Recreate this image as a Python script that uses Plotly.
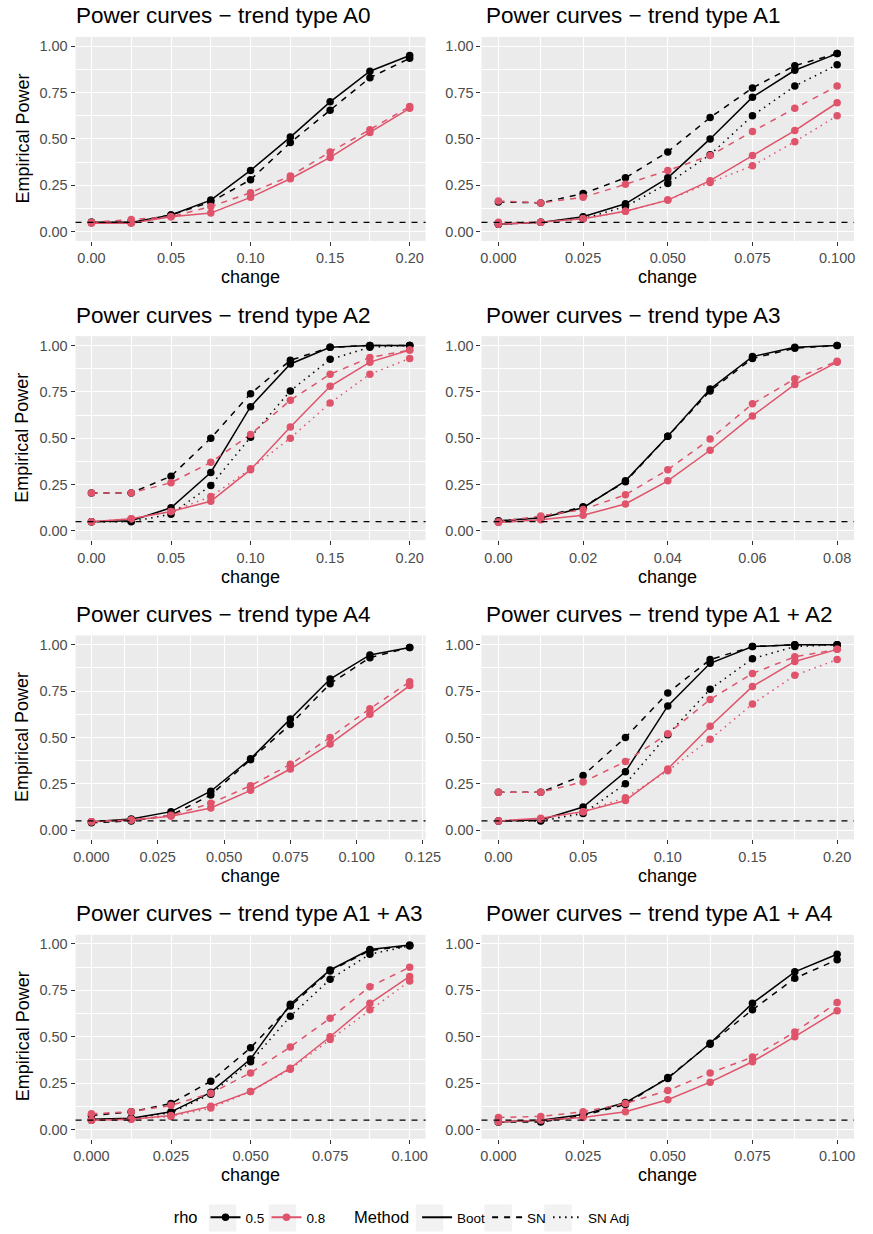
import plotly.graph_objects as go

BLACK = "#000000"
RED = "#DF536B"
FONT = "Liberation Sans, Arial, sans-serif"

# ---------------- data ----------------
x_step025 = [0.000, 0.025, 0.050, 0.075, 0.100, 0.125, 0.150, 0.175, 0.200]
x_step0125 = [0.0, 0.0125, 0.025, 0.0375, 0.05, 0.0625, 0.075, 0.0875, 0.1]
x_step01 = [0.00, 0.01, 0.02, 0.03, 0.04, 0.05, 0.06, 0.07, 0.08]
x_step015 = [0.000, 0.015, 0.030, 0.045, 0.060, 0.075, 0.090, 0.105, 0.120]

# A0
A0_boot_05 = [0.05, 0.05, 0.09, 0.17, 0.33, 0.51, 0.70, 0.865, 0.95]
A0_sn_05 = [0.05, 0.05, 0.09, 0.16, 0.28, 0.48, 0.655, 0.83, 0.935]
A0_boot_08 = [0.045, 0.045, 0.08, 0.10, 0.185, 0.285, 0.40, 0.535, 0.665]
A0_sn_08 = [0.05, 0.065, 0.08, 0.135, 0.21, 0.30, 0.43, 0.55, 0.675]

# A1
A1_boot_05 = [0.04, 0.05, 0.08, 0.15, 0.29, 0.50, 0.725, 0.87, 0.96]
A1_sn_05 = [0.16, 0.155, 0.205, 0.29, 0.43, 0.615, 0.775, 0.895, 0.96]
A1_snadj_05 = [0.04, 0.05, 0.07, 0.135, 0.26, 0.415, 0.625, 0.785, 0.90]
A1_boot_08 = [0.04, 0.05, 0.07, 0.11, 0.17, 0.275, 0.41, 0.545, 0.695]
A1_sn_08 = [0.165, 0.155, 0.185, 0.255, 0.33, 0.41, 0.54, 0.665, 0.785]
A1_snadj_08 = [0.05, 0.05, 0.07, 0.11, 0.17, 0.265, 0.355, 0.485, 0.625]

# A2
A2_boot_05 = [0.05, 0.055, 0.125, 0.315, 0.67, 0.90, 0.99, 1.00, 1.00]
A2_sn_05 = [0.205, 0.205, 0.295, 0.50, 0.74, 0.92, 0.99, 1.00, 1.00]
A2_snadj_05 = [0.05, 0.05, 0.09, 0.245, 0.505, 0.755, 0.925, 0.99, 1.00]
A2_boot_08 = [0.05, 0.065, 0.105, 0.16, 0.33, 0.56, 0.78, 0.91, 0.975]
A2_sn_08 = [0.205, 0.205, 0.26, 0.37, 0.52, 0.705, 0.845, 0.935, 0.975]
A2_snadj_08 = [0.05, 0.065, 0.105, 0.185, 0.335, 0.50, 0.69, 0.845, 0.93]

# A3
A3_boot_05 = [0.055, 0.07, 0.125, 0.27, 0.51, 0.765, 0.94, 0.99, 1.00]
A3_sn_05 = [0.05, 0.075, 0.13, 0.265, 0.51, 0.755, 0.93, 0.985, 1.00]
A3_boot_08 = [0.045, 0.06, 0.085, 0.145, 0.27, 0.435, 0.62, 0.79, 0.91]
A3_sn_08 = [0.05, 0.08, 0.115, 0.195, 0.33, 0.495, 0.685, 0.82, 0.915]

# A4
A4_boot_05 = [0.045, 0.06, 0.10, 0.21, 0.385, 0.60, 0.815, 0.945, 0.985]
A4_sn_05 = [0.04, 0.05, 0.08, 0.19, 0.38, 0.57, 0.79, 0.93, 0.985]
A4_boot_08 = [0.045, 0.055, 0.075, 0.12, 0.215, 0.33, 0.465, 0.625, 0.78]
A4_sn_08 = [0.045, 0.055, 0.08, 0.145, 0.24, 0.355, 0.50, 0.655, 0.80]

# A1 + A2
A12_boot_05 = [0.05, 0.055, 0.125, 0.315, 0.67, 0.90, 0.99, 1.00, 1.00]
A12_sn_05 = [0.205, 0.205, 0.295, 0.50, 0.74, 0.92, 0.99, 1.00, 1.00]
A12_snadj_05 = [0.05, 0.05, 0.09, 0.25, 0.515, 0.76, 0.925, 0.99, 1.00]
A12_boot_08 = [0.05, 0.065, 0.10, 0.16, 0.33, 0.56, 0.775, 0.91, 0.975]
A12_sn_08 = [0.205, 0.205, 0.26, 0.37, 0.52, 0.705, 0.845, 0.935, 0.975]
A12_snadj_08 = [0.05, 0.06, 0.10, 0.175, 0.32, 0.49, 0.68, 0.835, 0.92]

# A1 + A3
A13_boot_05 = [0.055, 0.06, 0.095, 0.20, 0.38, 0.675, 0.86, 0.97, 0.995]
A13_sn_05 = [0.075, 0.095, 0.14, 0.26, 0.44, 0.665, 0.855, 0.965, 0.99]
A13_snadj_05 = [0.05, 0.06, 0.09, 0.19, 0.365, 0.61, 0.81, 0.945, 0.99]
A13_boot_08 = [0.05, 0.055, 0.075, 0.125, 0.205, 0.33, 0.50, 0.68, 0.825]
A13_sn_08 = [0.085, 0.095, 0.13, 0.195, 0.305, 0.445, 0.60, 0.77, 0.875]
A13_snadj_08 = [0.05, 0.055, 0.07, 0.115, 0.205, 0.325, 0.485, 0.645, 0.80]

# A1 + A4
A14_boot_05 = [0.04, 0.05, 0.08, 0.145, 0.275, 0.465, 0.68, 0.85, 0.945]
A14_sn_05 = [0.04, 0.04, 0.075, 0.135, 0.28, 0.46, 0.645, 0.815, 0.915]
A14_boot_08 = [0.04, 0.05, 0.065, 0.095, 0.16, 0.255, 0.365, 0.50, 0.64]
A14_sn_08 = [0.065, 0.07, 0.095, 0.14, 0.21, 0.305, 0.39, 0.525, 0.685]

alpha_level = 0.05

# tick labels
y_ticks = [0.0, 0.25, 0.5, 0.75, 1.0]
y_ticklabels = ["0.00", "0.25", "0.50", "0.75", "1.00"]
x_ticks_020 = [0.0, 0.05, 0.10, 0.15, 0.20]
x_ticklabels_020 = ["0.00", "0.05", "0.10", "0.15", "0.20"]
x_ticks_010 = [0.0, 0.025, 0.05, 0.075, 0.1]
x_ticklabels_010 = ["0.000", "0.025", "0.050", "0.075", "0.100"]
x_ticks_008 = [0.0, 0.02, 0.04, 0.06, 0.08]
x_ticklabels_008 = ["0.00", "0.02", "0.04", "0.06", "0.08"]
x_ticks_012 = [0.0, 0.025, 0.05, 0.075, 0.1, 0.125]
x_ticklabels_012 = ["0.000", "0.025", "0.050", "0.075", "0.100", "0.125"]

titles = ["Power curves \u2212 trend type A0", "Power curves \u2212 trend type A1",
          "Power curves \u2212 trend type A2", "Power curves \u2212 trend type A3",
          "Power curves \u2212 trend type A4", "Power curves \u2212 trend type A1 + A2",
          "Power curves \u2212 trend type A1 + A3", "Power curves \u2212 trend type A1 + A4"]

rho_levels = ["0.5", "0.8"]
methods = ["Boot", "SN", "SN Adj"]

# ---------------- panel assembly ----------------
def expand(vals):
    lo, hi = min(vals), max(vals)
    d = (hi - lo) * 0.05
    return [lo - d, hi + d]

panels = [
    dict(x=x_step025, ticks=(x_ticks_020, x_ticklabels_020), minor=0.025,
         series={("Boot", "0.5"): A0_boot_05, ("SN", "0.5"): A0_sn_05,
                 ("Boot", "0.8"): A0_boot_08, ("SN", "0.8"): A0_sn_08}),
    dict(x=x_step0125, ticks=(x_ticks_010, x_ticklabels_010), minor=0.0125,
         series={("Boot", "0.5"): A1_boot_05, ("SN", "0.5"): A1_sn_05, ("SN Adj", "0.5"): A1_snadj_05,
                 ("Boot", "0.8"): A1_boot_08, ("SN", "0.8"): A1_sn_08, ("SN Adj", "0.8"): A1_snadj_08}),
    dict(x=x_step025, ticks=(x_ticks_020, x_ticklabels_020), minor=0.025,
         series={("Boot", "0.5"): A2_boot_05, ("SN", "0.5"): A2_sn_05, ("SN Adj", "0.5"): A2_snadj_05,
                 ("Boot", "0.8"): A2_boot_08, ("SN", "0.8"): A2_sn_08, ("SN Adj", "0.8"): A2_snadj_08}),
    dict(x=x_step01, ticks=(x_ticks_008, x_ticklabels_008), minor=0.01,
         series={("Boot", "0.5"): A3_boot_05, ("SN", "0.5"): A3_sn_05,
                 ("Boot", "0.8"): A3_boot_08, ("SN", "0.8"): A3_sn_08}),
    dict(x=x_step015, ticks=(x_ticks_012, x_ticklabels_012), minor=0.0125,
         series={("Boot", "0.5"): A4_boot_05, ("SN", "0.5"): A4_sn_05,
                 ("Boot", "0.8"): A4_boot_08, ("SN", "0.8"): A4_sn_08}),
    dict(x=x_step025, ticks=(x_ticks_020, x_ticklabels_020), minor=0.025,
         series={("Boot", "0.5"): A12_boot_05, ("SN", "0.5"): A12_sn_05, ("SN Adj", "0.5"): A12_snadj_05,
                 ("Boot", "0.8"): A12_boot_08, ("SN", "0.8"): A12_sn_08, ("SN Adj", "0.8"): A12_snadj_08}),
    dict(x=x_step0125, ticks=(x_ticks_010, x_ticklabels_010), minor=0.0125,
         series={("Boot", "0.5"): A13_boot_05, ("SN", "0.5"): A13_sn_05, ("SN Adj", "0.5"): A13_snadj_05,
                 ("Boot", "0.8"): A13_boot_08, ("SN", "0.8"): A13_sn_08, ("SN Adj", "0.8"): A13_snadj_08}),
    dict(x=x_step0125, ticks=(x_ticks_010, x_ticklabels_010), minor=0.0125,
         series={("Boot", "0.5"): A14_boot_05, ("SN", "0.5"): A14_sn_05,
                 ("Boot", "0.8"): A14_boot_08, ("SN", "0.8"): A14_sn_08}),
]

W, H = 873, 1234
col_left = [(75, 432), (489, 869)]
row_top0, row_h, row_stride = 37, 204.5, 300

dash_map = {"Boot": "solid", "SN": "6px,6px", "SN Adj": "1.5px,4.5px"}
color_map = {"0.5": BLACK, "0.8": RED}

TITLE_SIZE = 22.5
AXIS_TITLE_SIZE = 18
TICK_SIZE = 14.5

fig = go.Figure()
layout = dict(
    width=W, height=H, margin=dict(l=0, r=0, t=0, b=0),
    paper_bgcolor="white", plot_bgcolor="#EBEBEB",
    font=dict(family=FONT, color="black"),
    showlegend=True,
)
annotations = []
shapes = []

for i, p in enumerate(panels):
    r, c = divmod(i, 2)
    ax = "" if i == 0 else str(i + 1)
    xl, xr = col_left[c]
    top = row_top0 + r * row_stride
    bot = top + row_h
    xdom = [xl / W, xr / W]
    ydom = [1 - bot / H, 1 - top / H]
    tv, tt = p["ticks"]
    layout["xaxis" + ax] = dict(
        domain=xdom, anchor="y" + ax, range=expand(p["x"]),
        tickmode="array", tickvals=tv, ticktext=tt,
        ticks="outside", ticklen=4, tickwidth=1, tickcolor="#333333",
        tickfont=dict(size=TICK_SIZE, color="#4D4D4D", family=FONT),
        showgrid=True, gridcolor="white", gridwidth=1.4,
        minor=dict(tick0=0, dtick=p["minor"], showgrid=True, gridcolor="white", gridwidth=0.7),
        zeroline=False, showline=False, fixedrange=True,
    )
    layout["yaxis" + ax] = dict(
        domain=ydom, anchor="x" + ax, range=[-0.05, 1.05],
        tickmode="array", tickvals=y_ticks, ticktext=y_ticklabels,
        ticks="outside", ticklen=4, tickwidth=1, tickcolor="#333333",
        tickfont=dict(size=TICK_SIZE, color="#4D4D4D", family=FONT),
        showgrid=True, gridcolor="white", gridwidth=1.4,
        minor=dict(tick0=0.125, dtick=0.25, showgrid=True, gridcolor="white", gridwidth=0.7),
        zeroline=False, showline=False, fixedrange=True,
    )
    # lines first, then points (ggplot layer order)
    for mode in ("lines", "markers"):
        for rho in rho_levels:
            for m in methods:
                key = (m, rho)
                if key not in p["series"]:
                    continue
                tr = dict(x=p["x"], y=p["series"][key], xaxis="x" + ax, yaxis="y" + ax,
                          mode=mode, showlegend=False, hoverinfo="skip")
                if mode == "lines":
                    tr["line"] = dict(color=color_map[rho], width=1.5, dash=dash_map[m])
                else:
                    tr["marker"] = dict(color=color_map[rho], size=7.5)
                fig.add_trace(go.Scatter(**tr))
    # significance level reference line
    shapes.append(dict(type="line", xref="x" + ax + " domain", yref="y" + ax,
                       x0=0, x1=1, y0=alpha_level, y1=alpha_level,
                       line=dict(color="black", width=1.2, dash="6px,6px")))
    # panel title
    annotations.append(dict(text=titles[i], xref="paper", yref="paper",
                            x=(xl + (-2 if c == 0 else 3)) / W, y=1 - (top - 21) / H,
                            xanchor="left", yanchor="middle",
                            showarrow=False, font=dict(size=TITLE_SIZE, color="black", family=FONT)))
    # x axis title
    annotations.append(dict(text="change", xref="paper", yref="paper",
                            x=(xl + xr) / 2 / W, y=1 - (bot + 36.5) / H, xanchor="center", yanchor="middle",
                            showarrow=False, font=dict(size=AXIS_TITLE_SIZE, color="black", family=FONT)))
    if c == 0:
        annotations.append(dict(text="Empirical Power", xref="paper", yref="paper",
                                x=21 / W, y=1 - (top + bot) / 2 / H, xanchor="center", yanchor="middle",
                                textangle=-90, showarrow=False,
                                font=dict(size=AXIS_TITLE_SIZE, color="black", family=FONT)))

# legend entries (fixed entry widths so the key positions are predictable)
rho_entry_w = {"0.5": 16, "0.8": 16}
method_entry_w = {"Boot": 25, "SN": 16, "SN Adj": 40}
for rho in rho_levels:
    fig.add_trace(go.Scatter(x=[None], y=[None], mode="lines+markers", name=rho,
                             line=dict(color=color_map[rho], width=2),
                             marker=dict(size=7.5, color=color_map[rho]),
                             legend="legend", legendwidth=rho_entry_w[rho], showlegend=True))
for m in methods:
    fig.add_trace(go.Scatter(x=[None], y=[None], mode="lines", name=m,
                             line=dict(color="black", width=2, dash=dash_map[m]),
                             legend="legend2", legendwidth=method_entry_w[m], showlegend=True))

LEG_Y = 1221
leg_common = dict(orientation="h", yanchor="middle", xanchor="left", y=1 - LEG_Y / H,
                  font=dict(size=13.5, color="black", family=FONT), bgcolor="rgba(0,0,0,0)",
                  itemwidth=30, tracegroupgap=0)
layout["legend"] = dict(leg_common, x=173 / W,
                        title=dict(text="rho", side="left", font=dict(size=16.5, family=FONT)))
layout["legend2"] = dict(leg_common, x=357 / W,
                         title=dict(text="Method", side="left", font=dict(size=16.5, family=FONT)))

# light grey key backgrounds (ggplot legend.key)
key_centers = [225, 286, 436, 506, 567]
for kc in key_centers:
    shapes.append(dict(type="rect", xref="paper", yref="paper", layer="below",
                       x0=(kc - 14) / W, x1=(kc + 14) / W,
                       y0=1 - (LEG_Y + 13.5) / H, y1=1 - (LEG_Y - 13.5) / H,
                       fillcolor="#F2F2F2", line=dict(width=0)))

layout["annotations"] = annotations
layout["shapes"] = shapes
fig.update_layout(**layout)
fig.write_html("out.html", config={"displayModeBar": False},
               post_script="document.body.style.margin='0px';")
